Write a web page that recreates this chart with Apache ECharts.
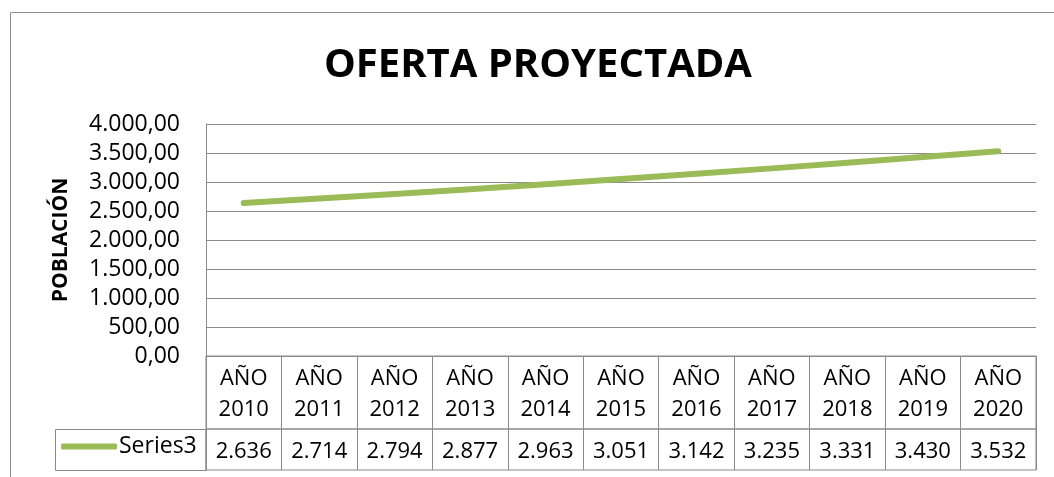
<!DOCTYPE html>
<html>
<head>
<meta charset="utf-8">
<script src="https://cdn.jsdelivr.net/npm/echarts@6/dist/echarts.min.js"></script>
<style>
  html, body { margin: 0; padding: 0; background: #fff; }
  #chart { width: 1054px; height: 477px; }
</style>
</head>
<body>
<div id="chart"></div>
<script>
// Projected supply by year
const years = ['2010', '2011', '2012', '2013', '2014', '2015', '2016', '2017', '2018', '2019', '2020'];
const categories = years.map(y => 'AÑO ' + y);
const seriesName = 'Series3';
const series3 = [2636, 2714, 2794, 2877, 2963, 3051, 3142, 3235, 3331, 3430, 3532];
const yTicks = [0, 500, 1000, 1500, 2000, 2500, 3000, 3500, 4000];

const FONT = '"Open Sans", "Liberation Sans", sans-serif';
const GRID_COLOR = '#8a8a8a';
const LINE_COLOR = '#9bbb59';

// Spanish-style number formatting: "." thousands, "," decimals
function fmt(n, decimals) {
  const parts = n.toFixed(decimals).split('.');
  parts[0] = parts[0].replace(/\B(?=(\d{3})+(?!\d))/g, '.');
  return parts.join(',');
}

const chart = echarts.init(document.getElementById('chart'), null, { renderer: 'canvas' });

const plotLeft = 206, plotRight = 18;
const tableAxis = (gridIndex, formatter) => ({
  type: 'category',
  gridIndex: gridIndex,
  data: categories,
  boundaryGap: true,
  position: 'top',
  axisLine: { show: false },
  axisTick: { show: false },
  axisLabel: {
    show: true, inside: true, interval: 0, margin: 7,
    fontFamily: FONT, fontSize: 22, color: '#000', lineHeight: 31,
    formatter: formatter
  },
  splitLine: { show: true, interval: 0, lineStyle: { color: GRID_COLOR, width: 1 } }
});

const option = {
  backgroundColor: '#fff',
  animation: false,
  title: {
    text: 'OFERTA PROYECTADA',
    left: 324,
    top: 46,
    padding: 0,
    textStyle: { fontFamily: FONT, fontSize: 40, fontWeight: 'bold', color: '#000' }
  },
  legend: {
    data: [seriesName],
    left: 61,
    top: 435,
    padding: 0,
    icon: 'roundRect',
    itemWidth: 56,
    itemHeight: 6,
    itemGap: 4,
    textStyle: { fontFamily: FONT, fontSize: 23, color: '#000', padding: [0, 0, 0, -3] }
  },
  grid: [
    { left: plotLeft, right: plotRight, top: 124, height: 232 },
    { left: plotLeft, right: plotRight, top: 356, height: 73, show: true, borderColor: GRID_COLOR, borderWidth: 1 },
    { left: plotLeft, right: plotRight, top: 429, height: 41, show: true, borderColor: GRID_COLOR, borderWidth: 1 }
  ],
  xAxis: [
    {
      type: 'category', gridIndex: 0, data: categories, boundaryGap: true,
      axisLine: { show: false }, axisTick: { show: false }, axisLabel: { show: false },
      splitLine: { show: false }
    },
    tableAxis(1, (v, i) => 'AÑO\n' + years[i]),
    tableAxis(2, (v, i) => fmt(series3[i], 0))
  ],
  yAxis: [
    {
      type: 'value', gridIndex: 0,
      min: yTicks[0], max: yTicks[yTicks.length - 1], interval: 500,
      name: 'POBLACIÓN',
      nameLocation: 'middle',
      nameRotate: 90,
      nameGap: 134,
      nameTextStyle: { fontFamily: FONT, fontSize: 21, fontWeight: 'bold', color: '#000' },
      axisLine: { show: true, lineStyle: { color: GRID_COLOR, width: 1 } },
      axisTick: { show: false },
      axisLabel: { fontFamily: FONT, fontSize: 23, color: '#000', margin: 26, formatter: v => fmt(v, 2) },
      splitLine: { show: true, lineStyle: { color: GRID_COLOR, width: 1 } }
    },
    { type: 'value', gridIndex: 1, show: false, min: 0, max: 1 },
    { type: 'value', gridIndex: 2, show: false, min: 0, max: 1 }
  ],
  series: [
    {
      name: seriesName,
      type: 'line',
      xAxisIndex: 0,
      yAxisIndex: 0,
      data: series3,
      showSymbol: false,
      symbol: 'none',
      lineStyle: { color: LINE_COLOR, width: 6, cap: 'round', join: 'round' },
      itemStyle: { color: LINE_COLOR }
    }
  ],
  graphic: [
    {
      type: 'rect', silent: true, z: 0,
      shape: { x: 10.5, y: 12.5, width: 1200, height: 600 },
      style: { fill: null, stroke: '#8f8f8f', lineWidth: 1 }
    },
    {
      type: 'rect', silent: true, z: 0,
      shape: { x: 55.5, y: 429.5, width: 150.5, height: 41 },
      style: { fill: null, stroke: GRID_COLOR, lineWidth: 1 }
    }
  ]
};

chart.setOption(option);
</script>
</body>
</html>
